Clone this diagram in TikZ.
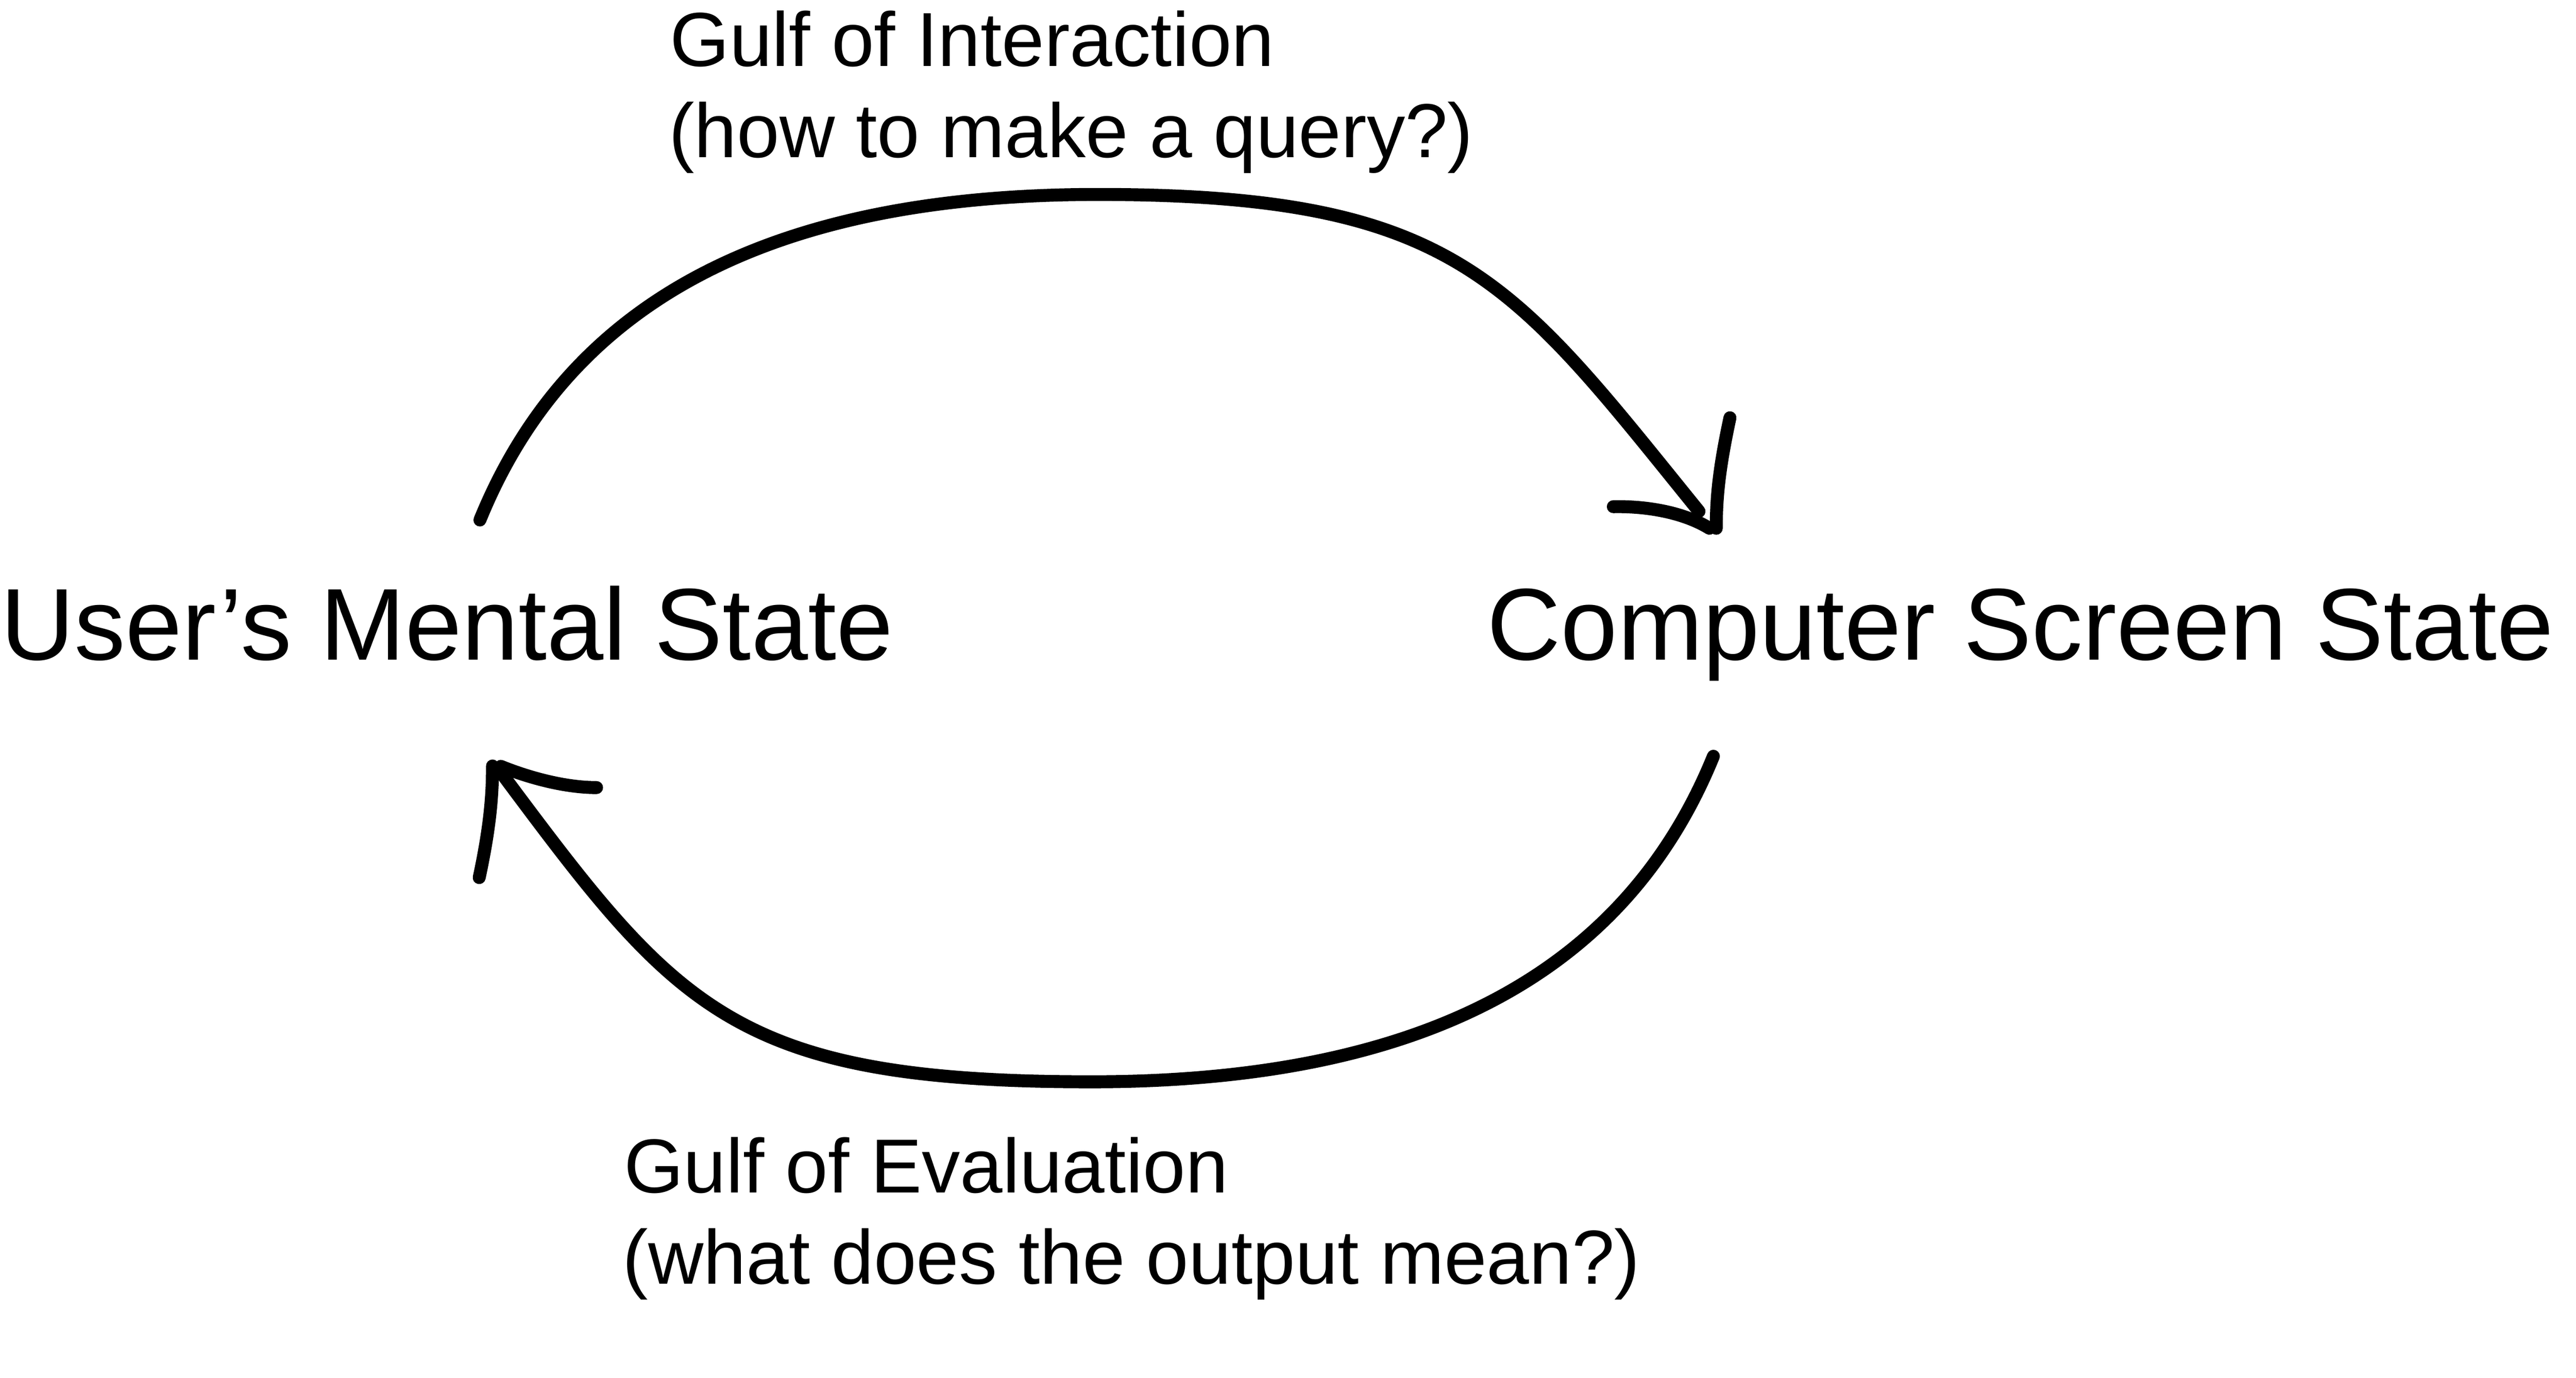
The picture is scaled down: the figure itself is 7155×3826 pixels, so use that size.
\documentclass[tikz,border=0pt]{standalone}
\usepackage{fontspec}
\setmainfont{Liberation Sans}
\begin{document}
\begin{tikzpicture}[x=0.1pt,y=-0.1pt,
  big/.style={font=\fontsize{28.35pt}{34pt}\selectfont, inner sep=0pt, anchor=base west},
  small/.style={font=\fontsize{21.27pt}{25.35pt}\selectfont, inner sep=0pt, anchor=base west},
  stroke/.style={line width=3.6pt, line cap=round, line join=round}]
\useasboundingbox (0,0) rectangle (7155,3826);
% labels
\node[big] (user) at (0,1832) {User’s Mental State};
\node[big] (comp) at (4129,1832) {Computer Screen State};
\node[small] (gi1) at (1859,184) {Gulf of Interaction};
\node[small] (gi2) at (1856,437.5) {(how to make a query?)};
\node[small] (ge1) at (1731,3312.5) {Gulf of Evaluation};
\node[small] (ge2) at (1728,3566) {(what does the output mean?)};
% top arc (interaction)
\coordinate (t0) at (1333,1444);
\coordinate (tp) at (3050,540);
\coordinate (t1) at (4719,1420);
\draw[stroke] (t0) .. controls (1583,830) and (2150,540) .. (tp)
  .. controls (4050,540) and (4200,780) .. (t1);
\coordinate (tb1s) at (4481,1407);
\coordinate (tb1e) at (4748,1467);
\coordinate (tb2s) at (4805,1160);
\coordinate (tb2e) at (4767,1467);
\draw[stroke] (tb1s) .. controls (4580,1405) and (4680,1425) .. (tb1e);
\draw[stroke] (tb2s) .. controls (4775,1300) and (4767,1380) .. (tb2e);
% bottom arc (evaluation)
\coordinate (b0) at (4759,2100);
\coordinate (bp) at (3031,3004);
\coordinate (b1) at (1399,2155);
\draw[stroke] (b0) .. controls (4510,2712) and (3935,3004) .. (bp)
  .. controls (2040,3004) and (1880,2800) .. (b1);
\coordinate (bb1s) at (1657,2187);
\coordinate (bb1e) at (1391,2128);
\coordinate (bb2s) at (1331,2437);
\coordinate (bb2e) at (1368,2127);
\draw[stroke] (bb2s) .. controls (1361,2297) and (1368,2210) .. (bb2e);
\draw[stroke] (bb1s) .. controls (1570,2187) and (1470,2160) .. (bb1e);
\end{tikzpicture}
\end{document}
